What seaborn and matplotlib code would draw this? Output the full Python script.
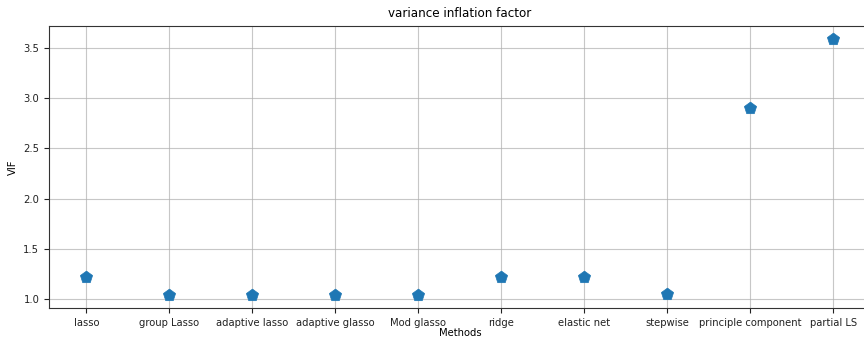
import matplotlib
matplotlib.use("Agg")
import matplotlib.pyplot as plt
import seaborn as sns
import pandas as pd

methods = ["lasso", "group Lasso", "adaptive lasso", "adaptive glasso", "Mod glasso",
           "ridge", "elastic net", "stepwise", "principle component", "partial LS"]
vif = [1.22, 1.04, 1.04, 1.04, 1.04, 1.22, 1.22, 1.05, 2.90, 3.59]

df = pd.DataFrame({"Methods": methods, "VIF": vif})

plt.rcParams["font.family"] = ["DejaVu Sans"]
plt.rcParams["font.stretch"] = "condensed"
plt.rcParams["font.size"] = 8

fig = plt.figure(figsize=(8.64, 3.44), dpi=100)
ax = fig.add_axes([0.0567, 0.105, 0.951, 0.82])
sns.scatterplot(data=df, x="Methods", y="VIF", marker="p", s=85, color="#1f77b4",
                edgecolor="#1f77b4", linewidth=0.5, ax=ax, zorder=3)
ax.margins(x=0.05, y=0.05)
ax.grid(True, color="#b0b0b0", linewidth=0.8, alpha=0.7)
ax.set_axisbelow(True)
for sp in ax.spines.values():
    sp.set_color("#333333")
ax.set_title("variance inflation factor", fontsize=9.5)
ax.set_xlabel("Methods", fontsize=8, labelpad=0)
ax.set_ylabel("VIF", fontsize=8)
ax.tick_params(labelsize=8, colors="#222222")
fig.savefig("out.png", dpi=100)
